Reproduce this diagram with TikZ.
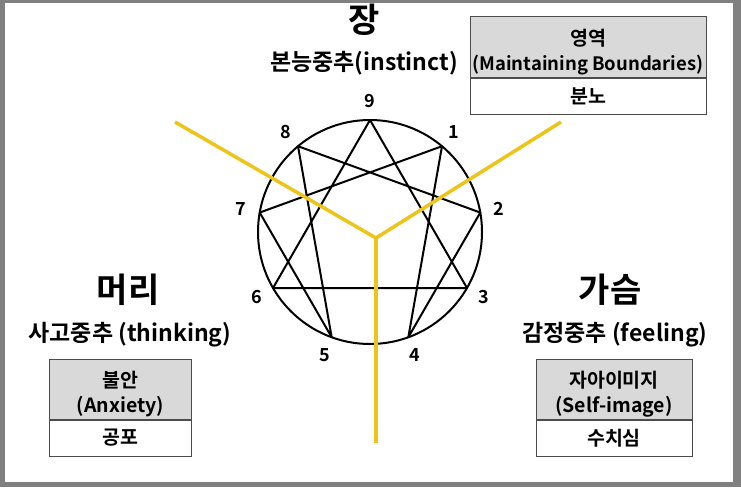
\documentclass[tikz,border=0pt]{standalone}
\usepackage{fontspec}
\setmainfont{Noto Sans CJK KR}[BoldFont={Noto Sans CJK KR Bold}]
\usetikzlibrary{positioning}
\definecolor{centerline}{RGB}{237,196,26}
\definecolor{headfill}{RGB}{217,217,217}
\definecolor{framegray}{RGB}{128,128,128}
\newcommand{\cellpad}{\rule{0pt}{27pt}}

\begin{document}
\begin{tikzpicture}[x=1pt, y=-1pt, >=latex]
    \tikzstyle{enn}=[line width=2pt, draw=black]
    \tikzstyle{triad}=[line width=3.5pt, draw=centerline]
    \tikzstyle{num}=[font=\bfseries\fontsize{18}{18}\selectfont, inner sep=0pt]
    \tikzstyle{title}=[font=\bfseries\fontsize{34}{36}\selectfont, inner sep=0pt]
    \tikzstyle{sub}=[font=\bfseries\fontsize{23}{26}\selectfont, inner sep=0pt]
    \tikzstyle{hdr}=[rectangle, draw=black!70, line width=1pt, fill=headfill, align=center, minimum height=60pt, inner sep=0pt, font=\bfseries\fontsize{19.5}{25}\selectfont]
    \tikzstyle{emo}=[rectangle, draw=black!70, line width=1pt, fill=white, minimum height=36pt, inner sep=0pt, font=\bfseries\fontsize{19.5}{22}\selectfont]
    \fill[framegray] (0,0) rectangle (741,487);
    \fill[white] (5,3) rectangle (733,482);

    \coordinate (c) at (370,232);
    \draw[enn] (c) circle [radius=112pt];
    \foreach \k in {1,...,9} {
      \coordinate (p\k) at ([shift={(-90+40*\k:112)}]c);
      \node[num] (n\k) at ([shift={(-90+40*\k:131)}]c) {\k};
    }
    \draw[enn, line join=round] (p9) -- (p3) -- (p6) -- cycle;
    \draw[enn, line join=round] (p1) -- (p4) -- (p2) -- (p8) -- (p5) -- (p7) -- cycle;

    \coordinate (mid) at (376,238);
    \coordinate (tl) at (175,122);
    \coordinate (tr) at (561,122);
    \coordinate (bot) at (376,443);
    \draw[triad] (tl) -- (mid) -- (tr);
    \draw[triad] (mid) -- (bot);

    \node[title] (gut) at (364,20) {장};
    \node[sub] (gutsub) at (364,63) {본능중추(instinct)};
    \node[hdr, minimum width=236pt] (gutbox) at (588,47) {\cellpad{}영역\\{\fontsize{18.5}{25}\selectfont(Maintaining Boundaries)}};
    \node[emo, minimum width=236pt, below=0pt of gutbox] (gutemo) {분노};

    \node[title] (head) at (128,290) {머리};
    \node[sub] (headsub) at (130,335) {사고중추 (thinking)};
    \node[hdr, minimum width=142pt] (headbox) at (120.5,389) {\cellpad{}불안\\(Anxiety)};
    \node[emo, minimum width=142pt, below=0pt of headbox] (heademo) {공포};

    \node[title] (heart) at (610,290) {가슴};
    \node[sub] (heartsub) at (615,335) {감정중추 (feeling)};
    \node[hdr, minimum width=156pt] (heartbox) at (614,389) {\cellpad{}자아이미지\\(Self-image)};
    \node[emo, minimum width=156pt, below=0pt of heartbox] (heartemo) {수치심};
\end{tikzpicture}
\end{document}
